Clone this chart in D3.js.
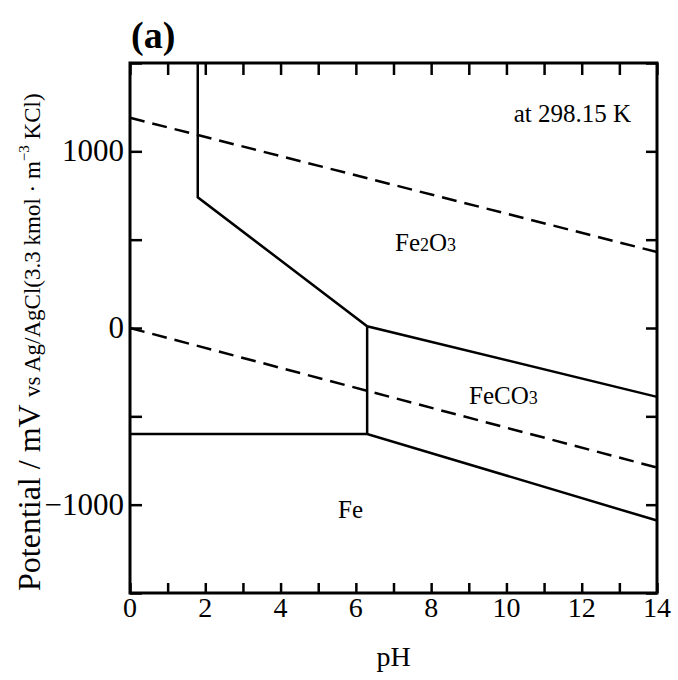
<!DOCTYPE html>
<html>
<head>
<meta charset="utf-8">
<script src="https://cdn.jsdelivr.net/npm/d3@7"></script>
<style>
  html, body { margin: 0; padding: 0; background: #fff; }
  svg { display: block; }
  text { font-family: "Liberation Serif", "DejaVu Serif", serif; fill: #000; }
</style>
</head>
<body>
<svg id="chart" width="678" height="680"></svg>
<script>
// Pourbaix (potential–pH) diagram for the Fe–CO3–H2O system
const xDomain = [0, 14];
const yDomain = [-1500, 1500];
const xTickLabels = [0, 2, 4, 6, 8, 10, 12, 14];
const yTickLabels = [-1000, 0, 1000];

// phase boundaries: [pH, potential mV]
const fe2o3Upper = [[1.8, 1500], [1.8, 740], [6.3, 10], [14, -390]];
const feBoundary = [[0, -600], [6.3, -600], [14, -1090]];
const feco3Divider = [[6.3, 10], [6.3, -600]];

// water stability lines (O2 / H2)
const oxygenLine = [[0, 1190], [14, 430]];
const hydrogenLine = [[0, 0], [14, -790]];

// region labels, split into normal and subscript pieces
const regionLabels = [
  { parts: [["Fe", 0], ["2", 1], ["O", 0], ["3", 1]], x: 395, y: 251 },
  { parts: [["FeCO", 0], ["3", 1]], x: 469, y: 404 },
  { parts: [["Fe", 0]], x: 338, y: 518 }
];

const svg = d3.select("#chart");
const mLeft = 130, mRight = 657, mTop = 63, mBottom = 593;

const x = d3.scaleLinear().domain(xDomain).range([mLeft, mRight]);
const y = d3.scaleLinear().domain(yDomain).range([mBottom, mTop]);

const line = d3.line().x(d => x(d[0])).y(d => y(d[1]));

// inward ticks on all four sides
const xAll = d3.range(0, 15, 1);
const yAll = d3.range(-1500, 1501, 500);

svg.append("g").attr("transform", `translate(0,${mBottom})`)
  .call(d3.axisBottom(x).tickValues(xAll).tickSize(-10).tickFormat(""))
  .call(g => g.select(".domain").remove());
svg.append("g").attr("transform", `translate(0,${mTop})`)
  .call(d3.axisTop(x).tickValues(xAll).tickSize(-12).tickFormat(""))
  .call(g => g.select(".domain").remove());
svg.append("g").attr("transform", `translate(${mLeft},0)`)
  .call(d3.axisLeft(y).tickValues(yAll).tickSize(-12).tickFormat(""))
  .call(g => g.select(".domain").remove());
svg.append("g").attr("transform", `translate(${mRight},0)`)
  .call(d3.axisRight(y).tickValues(yAll).tickSize(-11).tickFormat(""))
  .call(g => g.select(".domain").remove());
svg.selectAll(".tick line").attr("stroke", "#000").attr("stroke-width", 2.5);

// tick labels
svg.append("g").selectAll("text").data(xTickLabels).join("text")
  .attr("x", d => x(d)).attr("y", 617)
  .attr("text-anchor", "middle").attr("font-size", 28)
  .text(d => d);
svg.append("g").selectAll("text").data(yTickLabels).join("text")
  .attr("x", mLeft - 6).attr("y", d => y(d) + 10)
  .attr("text-anchor", "end").attr("font-size", 31)
  .text(d => String(d).replace("-", "\u2212"));

// frame
svg.append("rect")
  .attr("x", mLeft).attr("y", mTop)
  .attr("width", mRight - mLeft).attr("height", mBottom - mTop)
  .attr("fill", "none").attr("stroke", "#000").attr("stroke-width", 3);

// solid phase boundaries
[fe2o3Upper, feBoundary, feco3Divider].forEach(pts => {
  svg.append("path").attr("d", line(pts))
    .attr("fill", "none").attr("stroke", "#000").attr("stroke-width", 2.5)
    .attr("stroke-linejoin", "miter");
});

// dashed water lines
[oxygenLine, hydrogenLine].forEach(pts => {
  svg.append("path").attr("d", line(pts))
    .attr("fill", "none").attr("stroke", "#000").attr("stroke-width", 2.5)
    .attr("stroke-dasharray", "15,8");
});

// region labels
regionLabels.forEach(lab => {
  const t = svg.append("text").attr("x", lab.x).attr("y", lab.y).attr("font-size", 25);
  lab.parts.forEach(([s, sub]) => {
    t.append("tspan").attr("font-size", sub ? 18 : 25).text(s);
  });
});

// temperature note
svg.append("text").attr("x", 631).attr("y", 122)
  .attr("text-anchor", "end").attr("font-size", 25)
  .text("at 298.15 K");

// panel letter
svg.append("text").attr("x", 131).attr("y", 48)
  .attr("font-size", 38).attr("font-weight", "bold")
  .text("(a)");

// x axis title
svg.append("text").attr("x", x(7)).attr("y", 666)
  .attr("text-anchor", "middle").attr("font-size", 28)
  .text("pH");

// y axis title
const yt = svg.append("text")
  .attr("transform", "translate(40,591) rotate(-90)")
  .attr("text-anchor", "start");
yt.append("tspan").attr("font-size", 32).text("Potential / mV ");
yt.append("tspan").attr("font-size", 23).text("vs Ag/AgCl(3.3 kmol \u00b7 m");
yt.append("tspan").attr("font-size", 15).attr("dy", -11).text("\u22123");
yt.append("tspan").attr("font-size", 23).attr("dy", 11).text(" KCl)");
</script>
</body>
</html>
